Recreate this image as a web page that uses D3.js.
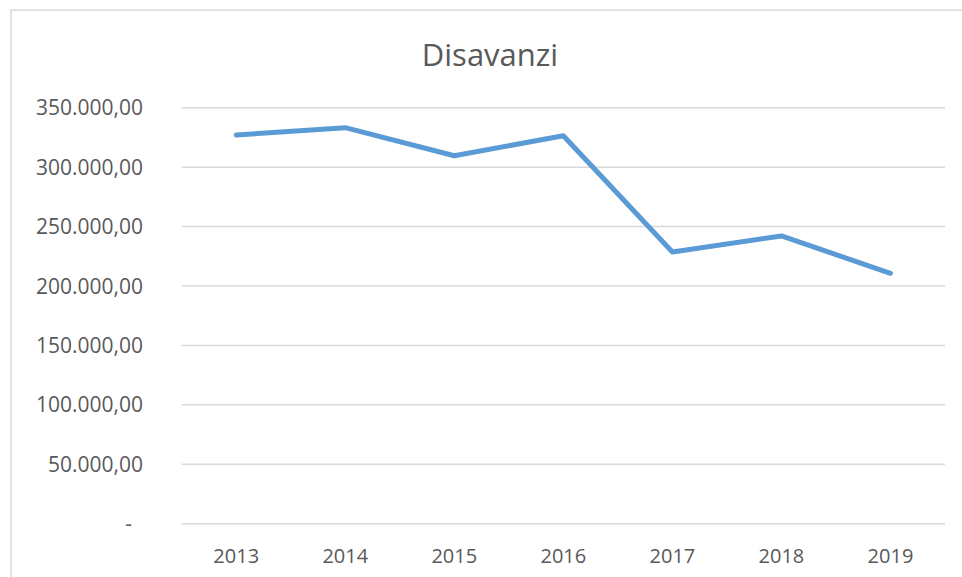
<!DOCTYPE html>
<meta charset="utf-8">
<head>
    <script src="https://d3js.org/d3.v7.min.js"></script>
    <style>
        body { margin: 0; background: #fff; }
        text { font-family: "Open Sans", sans-serif; fill: #595959; }
    </style>
</head>
<body>
<div id="chart"></div>
<script>
    // data
    const years = ["2013", "2014", "2015", "2016", "2017", "2018", "2019"]
    const disavanzi = [327000, 333200, 309600, 326400, 228600, 242100, 210700]
    const yTicks = [0, 50000, 100000, 150000, 200000, 250000, 300000, 350000]
    const title = "Disavanzi"

    const width = 962
    const height = 577

    const svg = d3.select("#chart").append("svg")
        .attr("width", width)
        .attr("height", height)

    // chart area frame (runs off the right and bottom edge)
    svg.append("rect")
        .attr("x", 11)
        .attr("y", 10)
        .attr("width", 1000)
        .attr("height", 700)
        .attr("fill", "none")
        .attr("stroke", "#d9d9d9")
        .attr("stroke-width", 1.5)

    const x = d3.scaleBand()
        .domain(years)
        .range([181.7, 945])

    const y = d3.scaleLinear()
        .domain([0, 350000])
        .range([523.7, 107.7])

    const fmt = d => d === 0 ? "-" : d3.formatLocale({
        decimal: ",", thousands: ".", grouping: [3], currency: ["", ""]
    }).format(",.2f")(d)

    // gridlines
    svg.append("g")
        .selectAll("line")
        .data(yTicks)
        .join("line")
        .attr("x1", 181.7)
        .attr("x2", 945)
        .attr("y1", d => y(d))
        .attr("y2", d => y(d))
        .attr("stroke", "#d9d9d9")
        .attr("stroke-width", 1.5)

    // y labels
    svg.append("g")
        .selectAll("text")
        .data(yTicks)
        .join("text")
        .attr("x", d => d === 0 ? 132 : 143)
        .attr("y", d => y(d))
        .attr("dy", "0.36em")
        .attr("text-anchor", "end")
        .attr("font-size", 21)
        .text(fmt)

    // x labels
    svg.append("g")
        .selectAll("text")
        .data(years)
        .join("text")
        .attr("x", d => x(d) + x.bandwidth() / 2)
        .attr("y", 562.5)
        .attr("text-anchor", "middle")
        .attr("font-size", 20)
        .text(d => d)

    // the line
    svg.append("path")
        .datum(disavanzi)
        .attr("fill", "none")
        .attr("stroke", "#5b9bd5")
        .attr("stroke-width", 5)
        .attr("stroke-linecap", "round")
        .attr("stroke-linejoin", "round")
        .attr("d", d3.line()
            .x((d, i) => x(years[i]) + x.bandwidth() / 2)
            .y(d => y(d)))

    svg.append("text")
        .attr("x", 490)
        .attr("y", 65.5)
        .attr("text-anchor", "middle")
        .attr("font-size", 31)
        .text(title)
</script>
</body>
